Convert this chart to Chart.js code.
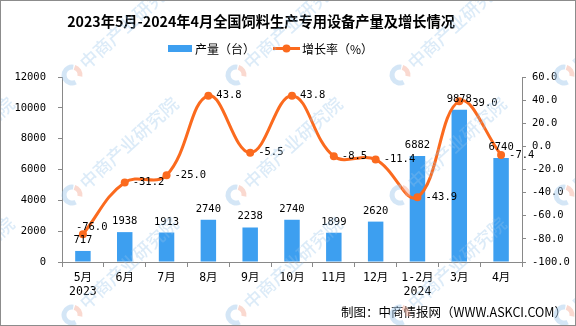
<!DOCTYPE html>
<html>
<head>
<meta charset="utf-8">
<script src="https://cdn.jsdelivr.net/npm/chart.js@4"></script>
<style>
body { margin: 0; background: #fff; }
canvas { display: block; }
</style>
</head>
<body>
<canvas id="chart" width="576" height="326"></canvas>
<script>
"use strict";

// data
const months = ["5月", "6月", "7月", "8月", "9月", "10月", "11月", "12月", "1-2月", "3月", "4月"];
const years = ["2023", "", "", "", "", "", "", "", "2024", "", ""];
const output = [717, 1938, 1913, 2740, 2238, 2740, 1899, 2620, 6882, 9878, 6740];
const growth = [-76.0, -31.2, -25.0, 43.8, -5.5, 43.8, -8.5, -11.4, -43.9, 39.0, -7.4];
const outputRange = [0, 12000, 2000];
const growthRange = [-100, 60, 20];

const BLUE = "#3d9ff0";
const ORANGE = "#fb6a1e";
const AXIS = "#898989";
const NUM_FONT = '"DejaVu Sans Mono", "Noto Sans CJK SC", monospace';
const CJK_FONT = '"Noto Sans CJK SC", sans-serif';

const labels = months.map((m, i) => years[i] ? [m, years[i]] : m);

// vattenstämpel: logga + text snett uppåt
function drawWatermark(ctx, x, y) {
    ctx.save();
    ctx.translate(x, y);
    ctx.lineWidth = 5;
    ctx.strokeStyle = "rgba(160, 200, 235, 0.45)";
    ctx.beginPath();
    ctx.arc(0, 0, 8, Math.PI * 0.35, Math.PI * 1.55);
    ctx.stroke();
    ctx.strokeStyle = "rgba(245, 170, 150, 0.45)";
    ctx.beginPath();
    ctx.arc(0, 0, 8, Math.PI * 1.6, Math.PI * 2.05);
    ctx.stroke();
    ctx.rotate(-0.74);
    ctx.fillStyle = "rgba(150, 195, 235, 0.33)";
    ctx.font = "500 18px " + CJK_FONT;
    ctx.textAlign = "left";
    ctx.textBaseline = "middle";
    ctx.fillText("中商产业研究院", 14, 0);
    ctx.restore();
}

// titel, legend, footer och datalabels ritas här
const extras = {
    id: "extras",
    afterDatasetsDraw(chart) {
        const ctx = chart.ctx;
        ctx.save();
        ctx.fillStyle = "#000";
        ctx.font = "10.5px " + NUM_FONT;
        ctx.textAlign = "center";
        ctx.textBaseline = "alphabetic";
        chart.getDatasetMeta(1).data.forEach((bar, i) => {
            ctx.fillText(String(output[i]), bar.x, bar.y - 8);
        });
        ctx.textAlign = "left";
        ctx.textBaseline = "middle";
        chart.getDatasetMeta(0).data.forEach((pt, i) => {
            const txt = growth[i].toFixed(1);
            if (i === 0) {
                ctx.fillText(txt, pt.x - 7, pt.y - 7);
            } else if (i === 9) {
                ctx.fillText(txt, pt.x + 13, pt.y + 2);
            } else {
                ctx.fillText(txt, pt.x + 8, pt.y);
            }
        });
        ctx.restore();
    },
    afterDraw(chart) {
        const ctx = chart.ctx;
        ctx.save();
        // title, skalas till samma bredd som förlagan
        const title = "2023年5月-2024年4月全国饲料生产专用设备产量及增长情况";
        ctx.font = "bold 16px " + CJK_FONT;
        const w = ctx.measureText(title).width;
        const size = Math.min(16, 16 * 388 / w);
        ctx.font = "bold " + size.toFixed(2) + "px " + CJK_FONT;
        ctx.fillStyle = "#000";
        ctx.textAlign = "center";
        ctx.textBaseline = "middle";
        ctx.fillText(title, 261, 22);

        // legend
        ctx.fillStyle = BLUE;
        ctx.fillRect(168, 45, 24, 7);
        ctx.strokeStyle = ORANGE;
        ctx.lineWidth = 3;
        ctx.beginPath();
        ctx.moveTo(273, 48.5);
        ctx.lineTo(300, 48.5);
        ctx.stroke();
        ctx.fillStyle = ORANGE;
        ctx.beginPath();
        ctx.arc(286.5, 48.5, 4, 0, Math.PI * 2);
        ctx.fill();
        ctx.fillStyle = "#000";
        ctx.font = "12px " + CJK_FONT;
        ctx.textAlign = "left";
        ctx.fillText("产量（台）", 195, 49);
        ctx.fillText("增长率（%）", 302, 49);

        // footer
        ctx.font = "12.5px " + CJK_FONT;
        ctx.textAlign = "right";
        ctx.fillText("制图：中商情报网（WWW.ASKCI.COM）", 567, 312);

        // vattenstämplar
        [-92, 72, 236, 400, 564].forEach(x => {
            [-45, 75, 195, 315].forEach(y => drawWatermark(ctx, x, y));
        });

        // ram
        ctx.strokeStyle = "#8c8c8c";
        ctx.lineWidth = 1;
        ctx.strokeRect(0.5, 0.5, 575, 325);
        ctx.restore();
    }
};

const tickFont = { family: NUM_FONT, size: 10.5 };
const xFont = { family: NUM_FONT, size: 11.5 };

new Chart(document.getElementById("chart"), {
    type: "bar",
    data: {
        labels: labels,
        datasets: [{
            type: "line",
            label: "增长率（%）",
            data: growth,
            yAxisID: "y1",
            borderColor: ORANGE,
            backgroundColor: ORANGE,
            borderWidth: 3,
            pointRadius: 4,
            pointBorderWidth: 0,
            pointBackgroundColor: ORANGE,
            tension: 0.4,
            order: 0
        }, {
            type: "bar",
            label: "产量（台）",
            data: output,
            yAxisID: "y",
            backgroundColor: BLUE,
            barPercentage: 0.37,
            categoryPercentage: 1,
            order: 1
        }]
    },
    options: {
        responsive: false,
        animation: false,
        layout: { padding: { top: 77, left: 0, right: 0, bottom: 0 } },
        plugins: {
            legend: { display: false },
            title: { display: false },
            tooltip: { enabled: false }
        },
        scales: {
            x: {
                grid: { display: true, drawOnChartArea: false, drawTicks: true, tickLength: 5, color: AXIS, offset: true },
                border: { display: true, color: AXIS },
                ticks: { color: "#000", font: xFont, padding: 4, maxRotation: 0, autoSkip: false },
                afterFit(scale) { scale.height = 64; }
            },
            y: {
                position: "left",
                min: outputRange[0],
                max: outputRange[1],
                ticks: { stepSize: outputRange[2], color: "#000", font: tickFont, padding: 12, callback: v => String(v) },
                grid: { drawOnChartArea: false, tickLength: 4, color: AXIS },
                border: { color: AXIS },
                afterFit(scale) { scale.width = 62; }
            },
            y1: {
                position: "right",
                min: growthRange[0],
                max: growthRange[1],
                ticks: { stepSize: growthRange[2], color: "#000", font: tickFont, padding: 6, callback: v => v.toFixed(1) },
                grid: { drawOnChartArea: false, tickLength: 4, color: AXIS },
                border: { color: AXIS },
                afterFit(scale) { scale.width = 54; }
            }
        }
    },
    plugins: [extras]
});
</script>
</body>
</html>
